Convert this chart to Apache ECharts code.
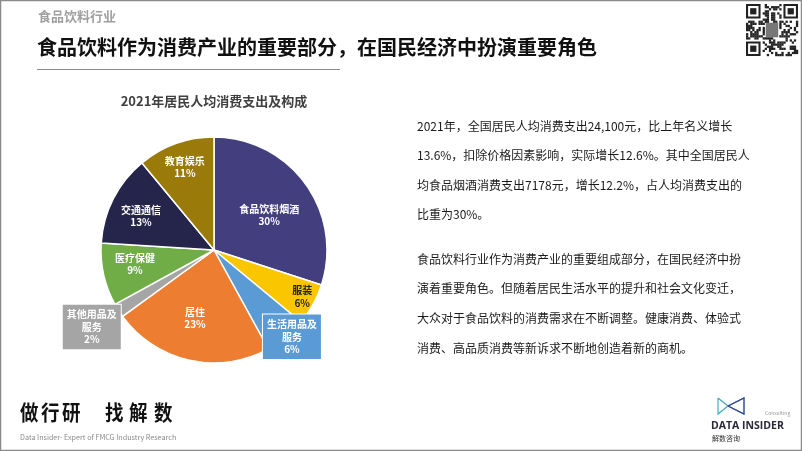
<!DOCTYPE html>
<html><head><meta charset="utf-8">
<script src="https://cdn.jsdelivr.net/npm/echarts@6/dist/echarts.min.js"></script>
<style>html,body{margin:0;padding:0;background:#fff}#c{width:802px;height:451px}</style>
</head><body><div id="c"></div>
<script>
var categories = ['食品饮料烟酒','服装','生活用品及服务','居住','其他用品及服务','医疗保健','交通通信','教育娱乐'];
var shares = [30, 6, 6, 23, 2, 9, 13, 11];
var colors = ['#433E7D','#FAC600','#5B9BD5','#ED7D31','#A5A5A5','#70AD47','#25244A','#9A7B0A'];
var labelOffsets = [[7,0],[36,18],[40,41],[-6,10],[-72,45],[-21,1],[-20,-7],[-9,-27]];
var chartTitle = '2021年居民人均消费支出及构成';
var para1 = ['2021年，全国居民人均消费支出24,100元，比上年名义增长','13.6%，扣除价格因素影响，实际增长12.6%。其中全国居民人','均食品烟酒消费支出7178元，增长12.2%，占人均消费支出的','比重为30%。'];
var para2 = ['食品饮料行业作为消费产业的重要组成部分，在国民经济中扮','演着重要角色。但随着居民生活水平的提升和社会文化变迁，','大众对于食品饮料的消费需求在不断调整。健康消费、体验式','消费、高品质消费等新诉求不断地创造着新的商机。'];
var sloganChars = ['做','行','研','找','解','数'];
var sloganX = [20, 41, 62, 105, 129, 154];

var FONT = '"Noto Sans CJK SC", "Noto Sans", sans-serif';
function wrapName(n){ return n.length > 6 ? n.slice(0,5) + '\n' + n.slice(5) : n; }

var data = categories.map(function(c, i){
  var d = { name: c, value: shares[i], itemStyle: { color: colors[i] },
    label: { offset: labelOffsets[i] } };
  if (i === 1) d.label.color = '#222';
  if (i === 2 || i === 4) {
    d.label.backgroundColor = colors[i];
    d.label.borderColor = '#fff';
    d.label.borderWidth = 1;
    d.label.padding = [4, 4, 3, 4];
  }
  return d;
});

var graphics = [];
graphics.push({type:'rect', shape:{x:0.5,y:0.5,width:801,height:450}, style:{fill:'none', stroke:'#8a8a8a', lineWidth:1.5}, silent:true});
graphics.push({type:'text', left:38, top:10, style:{text:'食品饮料行业', font:'bold 13px '+FONT, fill:'#a0a0a0'}});
graphics.push({type:'text', left:37, top:37, style:{text:'食品饮料作为消费产业的重要部分，在国民经济中扮演重要角色', font:'bold 20px '+FONT, fill:'#111'}});
graphics.push({type:'line', shape:{x1:37,y1:69.5,x2:340,y2:69.5}, style:{stroke:'#8c8c8c', lineWidth:1.2}});
graphics.push({type:'text', x:214, y:101, style:{text:chartTitle, font:'bold 13px '+FONT, fill:'#404040', textAlign:'center', textVerticalAlign:'middle'}});
para1.forEach(function(t,i){
  graphics.push({type:'text', x:417, y:126 + i*29.5, style:{text:t, font:'12px '+FONT, fill:'#1a1a1a', textVerticalAlign:'middle'}});
});
para2.forEach(function(t,i){
  graphics.push({type:'text', x:417, y:259 + i*29.7, style:{text:t, font:'12px '+FONT, fill:'#1a1a1a', textVerticalAlign:'middle'}});
});
sloganChars.forEach(function(ch,i){
  graphics.push({type:'text', x:sloganX[i], y:412, scaleX:0.88, style:{text:ch, font:'bold 21px '+FONT, fill:'#111', textVerticalAlign:'middle'}});
});
graphics.push({type:'text', x:20, y:437, style:{text:'Data Insider- Expert of FMCG Industry Research', font:'7.2px '+FONT, fill:'#8a8a8a', textVerticalAlign:'middle'}});
graphics.push({type:'polyline', shape:{points:[[718,398],[728,406],[744,398],[744,414],[728,406],[718,414],[718,398]]}, style:{fill:'none', stroke:'#3aa7b5', lineWidth:1.1}});
graphics.push({type:'polyline', shape:{points:[[728,406],[744,398],[744,414],[728,406]]}, style:{fill:'none', stroke:'#3b3b8c', lineWidth:1.1}});
graphics.push({type:'text', x:765, y:413, style:{text:'Consulting', font:'5px '+FONT, fill:'#999', textVerticalAlign:'middle'}});
graphics.push({type:'text', x:711, y:426, style:{text:'DATA INSIDER', font:'bold 10.5px "Open Sans", sans-serif', fill:'#2a2a3a', textVerticalAlign:'middle'}});
graphics.push({type:'text', x:712, y:438, style:{text:'解数咨询', font:'7px '+FONT, fill:'#333', textVerticalAlign:'middle'}});
(function(){
  var x0=746, y0=4, n=25, s=52/n;
  var seed = 7;
  function rnd(){ seed = (seed*1103515245 + 12345) % 2147483648; return seed/2147483648; }
  for (var r=0;r<n;r++) for (var c=0;c<n;c++){
    var inFinder = (r<8&&c<8)||(r<8&&c>=n-8)||(r>=n-8&&c<8);
    if (inFinder) continue;
    if (r>=9&&r<16&&c>=9&&c<16) continue;
    if (rnd()<0.5) graphics.push({type:'rect', shape:{x:x0+c*s,y:y0+r*s,width:s+0.2,height:s+0.2}, style:{fill:'#222'}, silent:true});
  }
  [[0,0],[0,n-7],[n-7,0]].forEach(function(p){
    var x=x0+p[1]*s, y=y0+p[0]*s;
    graphics.push({type:'rect', shape:{x:x+s/2,y:y+s/2,width:6*s,height:6*s}, style:{fill:'none', stroke:'#222', lineWidth:s}});
    graphics.push({type:'rect', shape:{x:x+2*s,y:y+2*s,width:3*s,height:3*s}, style:{fill:'#222'}});
  });
  graphics.push({type:'rect', shape:{x:x0+9.5*s,y:y0+9*s,width:6*s,height:7*s}, style:{fill:'#777'}});
})();

var chart = echarts.init(document.getElementById('c'), null, {renderer:'canvas'});
chart.setOption({
  animation: false,
  backgroundColor: '#fff',
  graphic: graphics,
  series: [{
    type: 'pie',
    center: [214, 250],
    radius: [0, 113],
    startAngle: 90,
    clockwise: true,
    data: data,
    itemStyle: { borderColor: '#fff', borderWidth: 1.5 },
    label: {
      show: true, position: 'inside', color: '#fff', fontFamily: FONT,
      fontWeight: 'bold', fontSize: 10, lineHeight: 12.5, align: 'center',
      formatter: function(p){ return wrapName(p.name) + '\n' + p.value + '%'; }
    },
    labelLine: { show: false },
    emphasis: { disabled: true }
  }]
});
</script></body></html>
